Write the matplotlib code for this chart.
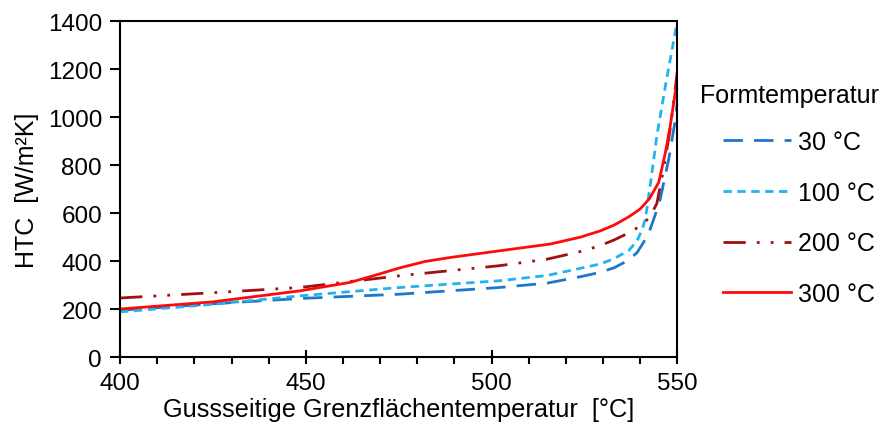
import numpy as np
import matplotlib
matplotlib.use("Agg")
import matplotlib.pyplot as plt
from matplotlib.ticker import MultipleLocator

plt.rcParams['font.family'] = ['Liberation Sans', 'DejaVu Sans']

# Temperatures (x) and HTC values per mould temperature
x_30 = [400, 425, 448.5, 475.4, 502.3, 515, 524, 529, 533, 537, 539.2, 541, 542.7, 544, 545.4, 547.7, 549.5, 550]
y_30 = [195, 222, 244, 262, 290, 308, 335, 352, 372, 405, 436, 480, 533, 590, 658, 825, 992, 1062]

x_100 = [400, 425, 448.5, 475.4, 502.3, 515, 524, 529.3, 533, 537, 539.2, 540.5, 541.4, 542.7, 544.5, 546.8, 548.6, 550]
y_100 = [188, 220, 255, 290, 318, 340, 370, 388, 410, 445, 485, 530, 575, 714, 922, 1130, 1283, 1400]

x_200 = [400, 425, 448.5, 475.4, 502.3, 515, 524, 529, 533, 537, 540.9, 543, 544.5, 546.3, 548.1, 550]
y_200 = [246, 268, 290, 339, 381, 408, 440, 463, 488, 518, 554, 595, 640, 783, 950, 1190]

x_300 = [400, 425, 448.5, 461.9, 468, 475.4, 482, 488.9, 502.3, 515.8, 524, 529.3, 533, 537, 540, 542.5, 545, 546.8, 548.1, 550]
y_300 = [200, 230, 276, 311, 338, 372, 398, 415, 443, 471, 500, 526, 550, 585, 617, 660, 728, 853, 964, 1158]

labels = ['30 °C', '100 °C', '200 °C', '300 °C']
legend_title = 'Formtemperatur'

fig = plt.figure(figsize=(8.9, 4.35), dpi=100)
ax = fig.add_axes([0.135, 0.177, 0.626, 0.772])

ax.plot(x_30, y_30, color='#1F77C8', lw=2, dashes=(7, 4), label=labels[0])
ax.plot(x_100, y_100, color='#1EB4F0', lw=2, dashes=(3, 2), label=labels[1])
ax.plot(x_200, y_200, color='#A01010', lw=2, dashes=(8, 4, 1, 4, 1, 4), label=labels[2])
ax.plot(x_300, y_300, color='#FF0A0A', lw=2, label=labels[3])

ax.set_xlim(400, 550)
ax.set_ylim(0, 1400)
ax.xaxis.set_major_locator(MultipleLocator(50))
ax.xaxis.set_minor_locator(MultipleLocator(10))
ax.yaxis.set_major_locator(MultipleLocator(200))
ax.tick_params(axis='x', which='major', direction='inout', length=10, width=1.5, labelsize=17.5, pad=6)
ax.tick_params(axis='x', which='minor', direction='out', length=5, width=1.5)
ax.tick_params(axis='y', which='major', direction='out', length=7, width=1.5, labelsize=17.5, pad=6)
for s in ax.spines.values():
    s.set_linewidth(1.5)

ax.set_xlabel('Gussseitige Grenzflächentemperatur  [°C]', fontsize=18.3, labelpad=2)
ax.set_ylabel('HTC  [W/m²K]', fontsize=18, labelpad=6)

fig.text(700 / 890, 1 - 96 / 435, legend_title, fontsize=18, ha='left', va='center')
leg = fig.legend(loc='center left', bbox_to_anchor=(723 / 890, 1 - 219 / 435), frameon=False,
                 fontsize=18, handlelength=2.7, labelspacing=1.07, handletextpad=0.3,
                 borderaxespad=0, borderpad=0)

fig.savefig('out.png', dpi=100)
